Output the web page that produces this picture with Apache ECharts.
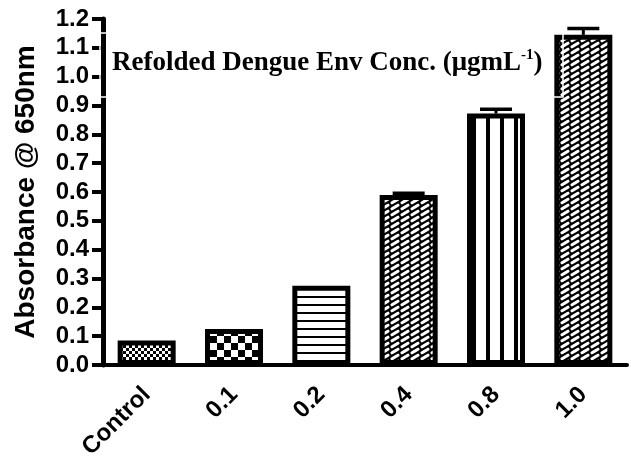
<!DOCTYPE html>
<html>
<head>
<meta charset="utf-8">
<script src="https://cdn.jsdelivr.net/npm/echarts@6/dist/echarts.min.js"></script>
<style>html,body{margin:0;padding:0;background:#fff}#c{width:631px;height:464px}</style>
</head>
<body>
<div id="c"></div>
<script>
const categories = ['Control', '0.1', '0.2', '0.4', '0.8', '1.0'];
const values = [0.085, 0.125, 0.275, 0.59, 0.872, 1.145];
const errors = [0, 0, 0, 0.006, 0.015, 0.022];
const yTicks = ['0.0','0.1','0.2','0.3','0.4','0.5','0.6','0.7','0.8','0.9','1.0','1.1','1.2'];

function mk(w, h, draw) {
  const c = document.createElement('canvas');
  c.width = w; c.height = h;
  const g = c.getContext('2d');
  draw(g, w, h);
  return c;
}
const fineChecker = mk(6, 6, g => {
  g.fillStyle = '#fff'; g.fillRect(0, 0, 6, 6);
  g.fillStyle = '#000'; g.fillRect(0, 0, 3, 3); g.fillRect(3, 3, 3, 3);
});
const bigChecker = mk(14, 14, g => {
  g.fillStyle = '#fff'; g.fillRect(0, 0, 14, 14);
  g.fillStyle = '#000'; g.fillRect(0, 0, 7, 7); g.fillRect(7, 7, 7, 7);
});
const hLines = mk(8, 8, g => {
  g.fillStyle = '#fff'; g.fillRect(0, 0, 8, 8);
  g.fillStyle = '#000'; g.fillRect(0, 0, 8, 2);
});
const brick = mk(10, 6, g => {
  g.fillStyle = '#000'; g.fillRect(0, 0, 10, 6);
  g.strokeStyle = '#fff'; g.lineWidth = 3; g.lineCap = 'round';
  for (const dx of [-10, 0, 10]) for (const dy of [-6, 0, 6]) {
    g.beginPath(); g.moveTo(2 + dx, 4.8 + dy); g.lineTo(8 + dx, 1.2 + dy); g.stroke();
  }
});
const vLines = mk(14, 8, g => {
  g.fillStyle = '#fff'; g.fillRect(0, 0, 14, 8);
  g.fillStyle = '#000'; g.fillRect(10, 0, 4, 8);
});
const patterns = [fineChecker, bigChecker, hLines, brick, vLines, brick];

const chart = echarts.init(document.getElementById('c'));
chart.setOption({
  animation: false,
  backgroundColor: '#fff',
  grid: { left: 103, right: 4, top: 19, bottom: 99 },
  xAxis: {
    type: 'category',
    data: categories,
    axisLine: { lineStyle: { color: '#000', width: 4 } },
    axisTick: { alignWithLabel: true, length: 10, lineStyle: { color: '#000', width: 4 } },
    axisLabel: { interval: 0, rotate: 45, margin: 26, color: '#000', fontFamily: 'Liberation Sans', fontWeight: 'bold', fontSize: 24 }
  },
  yAxis: {
    type: 'value',
    min: 0, max: 1.2, interval: 0.1,
    name: 'Absorbance @ 650nm',
    nameLocation: 'middle',
    nameGap: 63,
    nameTextStyle: { color: '#000', fontFamily: 'Liberation Sans', fontWeight: 'bold', fontSize: 28 },
    splitLine: { show: false },
    axisLine: { show: true, lineStyle: { color: '#000', width: 5 } },
    axisTick: { show: true, length: 11, lineStyle: { color: '#000', width: 4 } },
    axisLabel: { margin: 14, color: '#000', fontFamily: 'Liberation Sans', fontWeight: 'bold', fontSize: 24,
      formatter: (v) => yTicks[Math.round(v * 10)] }
  },
  series: [
    {
      type: 'bar',
      barWidth: 58,
      data: values.map((v, i) => ({
        value: v,
        itemStyle: { color: { image: patterns[i], repeat: 'repeat' }, borderColor: '#000', borderWidth: 5 }
      })),
      z: 2
    },
    {
      type: 'custom',
      data: values.map((v, i) => [i, v, errors[i]]),
      renderItem: (params, api) => {
        const e = api.value(2);
        if (!e) return null;
        const b = api.coord([api.value(0), api.value(1)]);
        const t = api.coord([api.value(0), api.value(1) + e]);
        return {
          type: 'group',
          children: [
            { type: 'line', shape: { x1: b[0], y1: b[1], x2: b[0], y2: t[1] }, style: { stroke: '#000', lineWidth: 3 } },
            { type: 'line', shape: { x1: b[0] - 16, y1: t[1], x2: b[0] + 16, y2: t[1] }, style: { stroke: '#000', lineWidth: 3.5 } }
          ]
        };
      },
      z: 3
    }
  ],
  graphic: [
    {
      type: 'rect', z: 100,
      shape: { x: 100, y: 33, width: 463, height: 64 },
      style: { fill: 'none', stroke: '#fff', lineWidth: 1.5 }
    },
    {
      type: 'text', z: 101, left: 112, top: 48,
      style: {
        text: '{a|Refolded Dengue Env Conc. (μgmL}{s|-1}{a|)}',
        rich: {
          a: { fontFamily: 'Liberation Serif', fontWeight: 'bold', fontSize: 27, fill: '#000', lineHeight: 30 },
          s: { fontFamily: 'Liberation Serif', fontWeight: 'bold', fontSize: 15, fill: '#000', verticalAlign: 'top', lineHeight: 30 }
        }
      }
    }
  ]
});
</script>
</body>
</html>
